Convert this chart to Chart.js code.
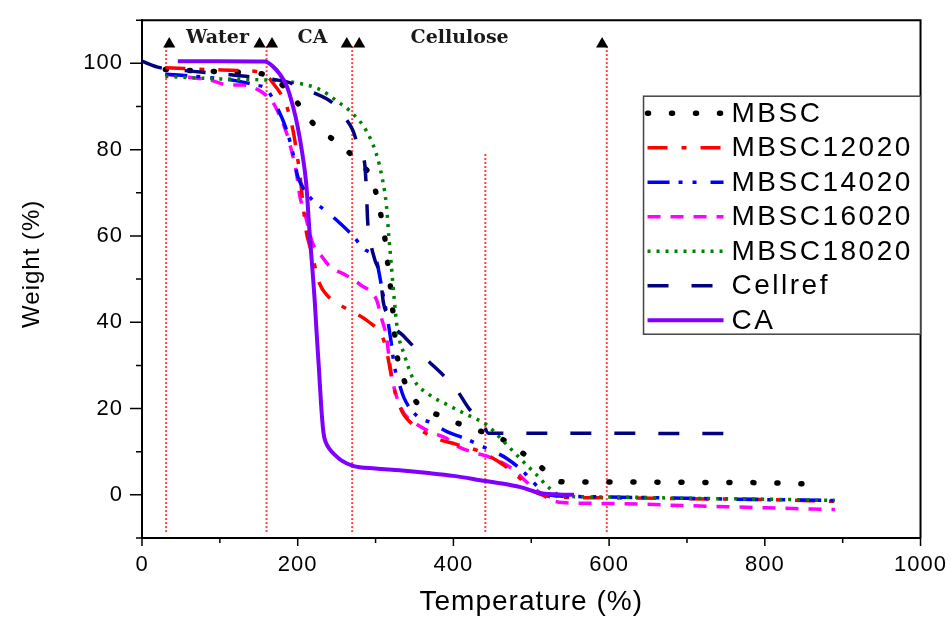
<!DOCTYPE html>
<html>
<head>
<meta charset="utf-8">
<script src="https://cdn.jsdelivr.net/npm/chart.js@4.4.0/dist/chart.umd.min.js"></script>
<style>
  html, body { margin: 0; padding: 0; background: #fff; }
  #quadro { width: 951px; height: 621px; }
</style>
</head>
<body>
<div id="quadro"><canvas id="graficoTGA"></canvas></div>
<script>
const mbscT = [30, 80, 130, 158, 180, 199, 215, 237, 258, 278, 296, 303, 309, 313, 316, 319, 322, 324, 327, 333, 344, 360, 382, 410, 442, 468, 491, 514, 530, 545, 600, 700, 800, 860];
const mbscW = [98.6, 98.2, 97.9, 97.4, 95, 91, 87, 83.5, 80.7, 77, 73, 68, 62.8, 58, 53, 48.5, 43, 38.4, 33, 28.5, 23.7, 20.2, 18.4, 16.3, 14.3, 12.4, 9.4, 6.2, 3.5, 3, 3, 2.9, 2.8, 2.5];

const mbsc12T = [30, 80, 130, 150, 162, 170, 178, 185, 190, 195, 199, 203, 207, 211, 215, 218, 228, 237, 260, 275, 289, 309, 314, 317, 322, 328, 335, 341, 356, 378, 404, 433, 463, 485, 497, 510, 530, 600, 700, 800, 890];
const mbsc12W = [99, 98.6, 98.3, 98, 96.8, 95, 93, 90.5, 87.5, 83.5, 79, 74, 67, 61, 58, 56, 49, 46.4, 43.4, 42, 40.4, 36.5, 33.6, 30.8, 26, 22, 19, 17.5, 15.2, 13.1, 11.7, 10.1, 7.1, 3.9, 1.6, 0.2, -0.5, -0.7, -0.9, -1.1, -1.5];

const mbsc14T = [30, 80, 120, 145, 160, 173, 186, 194, 200, 206, 219, 237, 254, 271, 285, 301, 306, 310, 314, 320, 324, 330, 337, 353, 373, 391, 417, 442, 468, 489, 510, 523, 540, 600, 700, 800, 890];
const mbsc14W = [97.5, 96.8, 96, 95, 94, 90, 84.4, 79, 73.8, 71.5, 68.3, 65.7, 63, 60, 57, 54.3, 50, 46, 42.3, 35.4, 30, 26, 22.3, 18.3, 16.6, 14.7, 12.9, 10.8, 8.5, 5.5, 1.6, 0, -0.3, -0.5, -0.8, -1.1, -1.3];

const mbsc16T = [30, 60, 90, 110, 130, 150, 160, 168, 177, 186, 192, 198, 203, 209, 219, 230, 241, 263, 282, 301, 308, 314, 318, 322, 335, 348, 369, 391, 408, 429, 450, 476, 497, 515, 523, 540, 600, 700, 800, 890];
const mbsc16W = [97.5, 96.8, 96, 95, 95, 93.8, 92.5, 91, 87.8, 83.7, 79.8, 75, 69, 65.3, 58.4, 55.5, 53, 50.8, 48.5, 45.3, 40.7, 36.6, 30.8, 26.2, 19.3, 17, 14.7, 13.1, 11, 9.7, 8.5, 6, 2.5, 0, -1, -1.8, -2, -2.5, -3, -3.4];

const mbsc18T = [30, 60, 100, 150, 180, 206, 228, 250, 271, 288, 301, 309, 314, 317, 320, 324, 328, 337, 348, 369, 391, 417, 442, 468, 489, 506, 523, 540, 600, 700, 800, 890];
const mbsc18W = [97, 96.7, 96.4, 96.2, 95.9, 95.2, 94, 91.3, 88.3, 84.4, 79, 73, 67, 60, 53.8, 45.3, 38.4, 32.4, 27, 23.2, 21, 18.6, 16.3, 11.7, 7.8, 4.8, 1.6, -0.3, -0.5, -0.8, -1, -1.3];

const cellrefT = [0, 23, 62, 122, 168, 186, 200, 219, 237, 250, 260, 271, 280, 286, 288, 290, 292, 299, 305, 308, 310, 318, 324, 335, 356, 369, 391, 404, 420, 437, 445, 500, 600, 700, 770];
const cellrefW = [100.5, 99, 98.2, 97.2, 96.3, 95.7, 94.8, 93.3, 91.8, 90, 87.6, 84.4, 79.5, 76.8, 71.5, 63, 60, 54.5, 51.5, 47.6, 44.6, 41, 38.9, 37, 33, 30.8, 27, 24.4, 20, 17, 14.3, 14.3, 14.3, 14.2, 14.2];

const caT = [46, 100, 158, 168, 177, 186, 194, 200, 206, 211, 215, 219, 222, 224, 227, 230, 233, 236, 241, 248, 256, 271, 300, 331, 365, 400, 441, 470, 490, 503, 515, 535, 555];
const caW = [100.5, 100.5, 100.4, 99.3, 97.5, 94.7, 90, 85.3, 79, 72, 61.4, 52, 44.6, 38.4, 30, 21, 14.5, 12.2, 10.6, 9.2, 8, 6.7, 6.1, 5.7, 5.1, 4.4, 3.2, 2.4, 1.6, 0.8, 0.3, 0.1, 0];

// Linhas verticais de referência (temperatura, topo)
const linhasT = [31, 160, 270, 441, 597];
const linhasTopo = [104, 104, 104, 79, 104];
const linhasBase = -9;

// Marcadores triangulares no topo
const triangulosT = [35, 151, 167, 263, 279, 591];
const triangulosY = 104.5;

// Rótulos das faixas
const faixasTexto = ['Water', 'CA', 'Cellulose'];
const faixasT = [97, 219, 408];
const faixasY = 105.9;

// Escalas
const eixoX = { min: 0, max: 1000, passo: 100, rotulo: 200 };
const eixoY = { min: -10, max: 110, passo: 10, rotulo: 20 };

// Função para montar uma série
function criarSerie(rotulo, temps, pesos, cor, tracejado, espessura, ponta, ordem) {
  return {
    label: rotulo,
    data: temps.map((t, i) => ({ x: t, y: pesos[i] })),
    borderColor: cor,
    backgroundColor: cor,
    borderWidth: espessura,
    borderDash: tracejado,
    borderCapStyle: ponta,
    pointRadius: 0,
    showLine: true,
    fill: false,
    cubicInterpolationMode: 'monotone',
    order: ordem,
    legenda: true
  };
}

const series = [
  criarSerie('MBSC', mbscT, mbscW, '#000000', [1, 23], 5.5, 'round', 6),
  criarSerie('MBSC12020', mbsc12T, mbsc12W, '#ff0000', [20, 14, 5, 14], 3.5, 'butt', 4),
  criarSerie('MBSC14020', mbsc14T, mbsc14W, '#0000ff', [22, 9, 4, 10, 4, 14], 3.5, 'butt', 3),
  criarSerie('MBSC16020', mbsc16T, mbsc16W, '#ff00ff', [13, 10], 3.5, 'butt', 5),
  criarSerie('MBSC18020', mbsc18T, mbsc18W, '#008000', [3, 6], 3.5, 'butt', 2),
  criarSerie('Cellref', cellrefT, cellrefW, '#000080', [21, 23], 3.5, 'butt', 1),
  criarSerie('CA', caT, caW, '#8000ff', [], 4, 'butt', 0)
];

// Linhas pontilhadas vermelhas
const linhasVerticais = linhasT.map((t, i) => ({
  data: [{ x: t, y: linhasTopo[i] }, { x: t, y: linhasBase }],
  borderColor: 'rgba(255,0,0,0.75)',
  borderWidth: 2,
  borderDash: [2, 2],
  pointRadius: 0,
  showLine: true,
  order: 10
}));

const triangulos = {
  data: triangulosT.map(t => ({ x: t, y: triangulosY })),
  pointStyle: 'triangle',
  pointRadius: 7,
  backgroundColor: '#000',
  borderColor: '#000',
  borderWidth: 0,
  showLine: false,
  order: 0
};

// Espaçamento de letras nos eixos
const espacamentoPlugin = {
  id: 'espacamento',
  beforeDraw(chart) { chart.ctx.letterSpacing = '1px'; },
  beforeDatasetsDraw(chart) { chart.ctx.letterSpacing = '0px'; }
};

// Marcas dos eixos e moldura
const eixosPlugin = {
  id: 'marcasEixos',
  afterDatasetsDraw(chart) {
    const { ctx, chartArea: a, scales: { x, y } } = chart;
    ctx.save();
    ctx.strokeStyle = '#000';
    ctx.lineWidth = 1.5;
    ctx.beginPath();
    x.ticks.forEach(t => {
      const px = x.getPixelForValue(t.value);
      const len = t.value % eixoX.rotulo === 0 ? 8 : 5;
      ctx.moveTo(px, a.bottom);
      ctx.lineTo(px, a.bottom + len);
    });
    y.ticks.forEach(t => {
      const py = y.getPixelForValue(t.value);
      const maior = t.value % eixoY.rotulo === 0 && t.value >= 0 && t.value <= 100;
      ctx.moveTo(a.left, py);
      ctx.lineTo(a.left - (maior ? 12 : 6), py);
    });
    ctx.stroke();
    ctx.lineWidth = 2;
    ctx.beginPath();
    ctx.moveTo(a.left, a.top);
    ctx.lineTo(a.right, a.top);
    ctx.lineTo(a.right, a.bottom);
    ctx.stroke();
    ctx.restore();
  }
};

// Rótulos Water / CA / Cellulose
const faixasPlugin = {
  id: 'faixas',
  afterDatasetsDraw(chart) {
    const { ctx, scales: { x, y } } = chart;
    ctx.save();
    ctx.font = 'bold 19px "DejaVu Serif", serif';
    ctx.fillStyle = '#1a1a1a';
    ctx.textAlign = 'center';
    ctx.textBaseline = 'middle';
    faixasTexto.forEach((txt, i) => {
      ctx.fillText(txt, x.getPixelForValue(faixasT[i]), y.getPixelForValue(faixasY));
    });
    ctx.restore();
  }
};

// Legenda dentro da área do gráfico
const legendaPlugin = {
  id: 'legendaInterna',
  afterDraw(chart) {
    const { ctx, chartArea: a } = chart;
    const larg = 277, alt = 238;
    const esq = a.right - larg, topo = a.top + 76;
    ctx.save();
    ctx.fillStyle = '#fff';
    ctx.fillRect(esq, topo, larg, alt);
    ctx.strokeStyle = '#444';
    ctx.lineWidth = 1.5;
    ctx.strokeRect(esq, topo, larg, alt);
    chart.data.datasets.filter(d => d.legenda).forEach((d, i) => {
      const yy = topo + 17 + i * 34.5;
      ctx.beginPath();
      ctx.setLineDash(d.borderDash);
      ctx.lineCap = d.borderCapStyle;
      ctx.lineWidth = d.borderWidth;
      ctx.strokeStyle = d.borderColor;
      ctx.moveTo(esq + 4, yy);
      ctx.lineTo(esq + 80, yy);
      ctx.stroke();
      ctx.setLineDash([]);
      ctx.fillStyle = '#000';
      ctx.font = '28px "Liberation Sans", Arial, sans-serif';
      ctx.letterSpacing = '2.5px';
      ctx.textBaseline = 'middle';
      ctx.textAlign = 'left';
      ctx.fillText(d.label, esq + 88, yy + 1);
    });
    ctx.restore();
  }
};

Chart.defaults.color = '#000';

const ctx = document.getElementById('graficoTGA').getContext('2d');
new Chart(ctx, {
  type: 'scatter',
  data: { datasets: [...series, ...linhasVerticais, triangulos] },
  options: {
    responsive: true,
    maintainAspectRatio: false,
    animation: false,
    layout: { padding: { top: 16, right: 29, left: 0, bottom: 0 } },
    plugins: {
      legend: { display: false },
      tooltip: { enabled: false }
    },
    scales: {
      x: {
        type: 'linear',
        min: eixoX.min,
        max: eixoX.max,
        afterFit(escala) { escala.height = 83; },
        grid: { drawOnChartArea: false, drawTicks: true, tickLength: 8, tickColor: 'rgba(0,0,0,0)' },
        border: { display: true, color: '#000', width: 2 },
        ticks: {
          stepSize: eixoX.passo,
          autoSkip: false,
          maxRotation: 0,
          padding: 6,
          font: { family: '"Liberation Sans", Arial, sans-serif', size: 22 },
          callback: v => (v % eixoX.rotulo === 0 ? v : '')
        },
        title: {
          display: true,
          text: 'Temperature (%)',
          font: { family: '"Liberation Sans", Arial, sans-serif', size: 28 },
          padding: { top: 0, bottom: 2 }
        }
      },
      y: {
        type: 'linear',
        min: eixoY.min,
        max: eixoY.max,
        afterFit(escala) { escala.width = 142; },
        grid: { drawOnChartArea: false, drawTicks: true, tickLength: 12, tickColor: 'rgba(0,0,0,0)' },
        border: { display: true, color: '#000', width: 2 },
        ticks: {
          stepSize: eixoY.passo,
          autoSkip: false,
          padding: 7,
          font: { family: '"Liberation Sans", Arial, sans-serif', size: 22 },
          callback: v => (v % eixoY.rotulo === 0 && v >= 0 && v <= 100 ? v : '')
        },
        title: {
          display: true,
          text: '    Weight (%)',
          font: { family: '"Liberation Sans", Arial, sans-serif', size: 24 },
          padding: { top: 18, bottom: 0 }
        }
      }
    }
  },
  plugins: [espacamentoPlugin, eixosPlugin, faixasPlugin, legendaPlugin]
});
</script>
</body>
</html>
